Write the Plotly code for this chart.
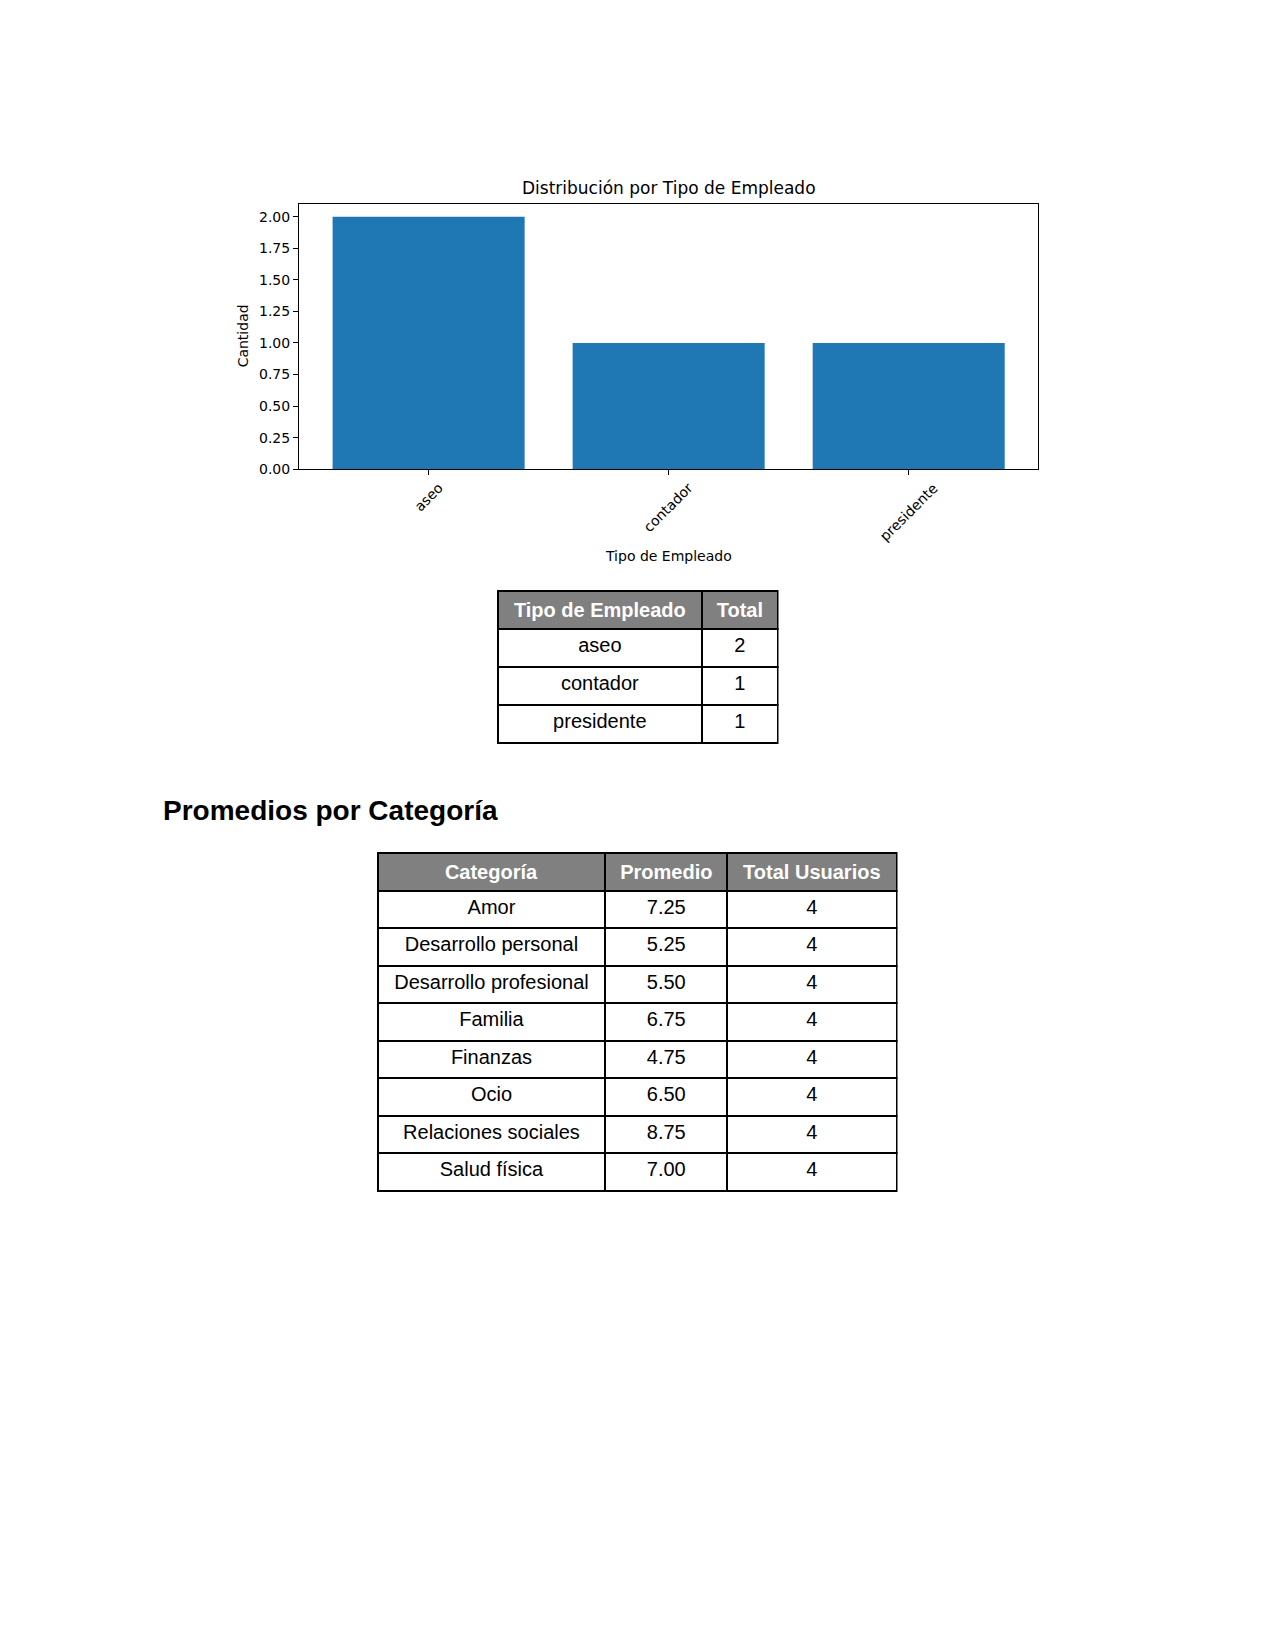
import plotly.graph_objects as go

# ---------------- data ----------------
tipos = ["aseo", "contador", "presidente"]
cantidades = [2, 1, 1]

categorias = ["Amor", "Desarrollo personal", "Desarrollo profesional", "Familia",
              "Finanzas", "Ocio", "Relaciones sociales", "Salud física"]
promedios = [7.25, 5.25, 5.50, 6.75, 4.75, 6.50, 8.75, 7.00]
total_usuarios = [4, 4, 4, 4, 4, 4, 4, 4]

y_ticks = [0, 0.25, 0.5, 0.75, 1.0, 1.25, 1.5, 1.75, 2.0]

W, H = 1275, 1650


def px(x):
    return x / W


def py(y):
    return 1 - y / H


DEJAVU = "DejaVu Sans"
ARIAL = "Liberation Sans, Arial"

fig = go.Figure()

fig.add_trace(go.Bar(
    x=tipos, y=cantidades,
    marker=dict(color="#1f77b4", line=dict(width=0)),
    showlegend=False,
    xaxis="x", yaxis="y",
))

# table 1
fig.add_trace(go.Table(
    domain=dict(x=[px(497.5), px(777.5)], y=[py(800), py(594)]),
    columnwidth=[204.8, 75.4],
    header=dict(
        values=["<b>Tipo de Empleado</b>", "<b>Total</b>"],
        fill_color="#808080",
        line=dict(color="black", width=2),
        font=dict(family=ARIAL, size=20, color="white"),
        align="center",
        height=38,
    ),
    cells=dict(
        values=[tipos, cantidades],
        fill_color="white",
        line=dict(color="black", width=2),
        font=dict(family=ARIAL, size=20, color="black"),
        align="center",
        height=38,
    ),
))

# table 2
fig.add_trace(go.Table(
    domain=dict(x=[px(377.5), px(896.7)], y=[py(1260), py(857)]),
    columnwidth=[228, 121.8, 169.4],
    header=dict(
        values=["<b>Categoría</b>", "<b>Promedio</b>", "<b>Total Usuarios</b>"],
        fill_color="#808080",
        line=dict(color="black", width=2),
        font=dict(family=ARIAL, size=20, color="white"),
        align="center",
        height=37.5,
    ),
    cells=dict(
        values=[categorias, [f"{v:.2f}" for v in promedios], total_usuarios],
        fill_color="white",
        line=dict(color="black", width=2),
        font=dict(family=ARIAL, size=20, color="black"),
        align="center",
        height=37.5,
    ),
))

annotations = []
# chart title
annotations.append(dict(
    text="Distribución por Tipo de Empleado", xref="paper", yref="paper",
    x=px((299 + 1038.3) / 2), y=py(188.5), xanchor="center", yanchor="middle",
    showarrow=False, font=dict(family=DEJAVU, size=17, color="black"),
))
# x axis title
annotations.append(dict(
    text="Tipo de Empleado", xref="paper", yref="paper",
    x=px((299 + 1038.3) / 2), y=py(559), xanchor="center", yanchor="middle",
    showarrow=False, font=dict(family=DEJAVU, size=14, color="black"),
))
# y axis title
annotations.append(dict(
    text="Cantidad", xref="paper", yref="paper", textangle=-90,
    x=px(243), y=py(338), xanchor="center", yanchor="middle",
    showarrow=False, font=dict(family=DEJAVU, size=14, color="black"),
))
# rotated category tick labels (centered under ticks, like matplotlib)
for t in tipos:
    annotations.append(dict(
        text=t, xref="x", yref="paper", x=t, y=py(479),
        xanchor="center", yanchor="top", textangle=-45,
        showarrow=False, font=dict(family=DEJAVU, size=14, color="black"),
    ))
# section heading
annotations.append(dict(
    text="<b>Promedios por Categoría</b>", xref="paper", yref="paper",
    x=px(161), y=py(814), xanchor="left", yanchor="middle",
    showarrow=False, font=dict(family="Liberation Sans, Arial", size=28, color="black"),
))

fig.update_layout(
    width=W, height=H,
    margin=dict(l=0, r=0, t=0, b=0),
    paper_bgcolor="white", plot_bgcolor="white",
    bargap=0.2,
    showlegend=False,
    xaxis=dict(
        domain=[px(299), px(1038.3)],
        anchor="y",
        type="category",
        range=[-0.54, 2.54],
        showline=True, linecolor="black", linewidth=1, mirror=True,
        ticks="outside", ticklen=5, tickwidth=1, tickcolor="black",
        showticklabels=False,
        showgrid=False, zeroline=False,
        fixedrange=True,
    ),
    yaxis=dict(
        domain=[py(471.5), py(205)],
        anchor="x",
        range=[0, 2.1],
        tickvals=y_ticks,
        tickformat=".2f",
        showline=True, linecolor="black", linewidth=1, mirror=True,
        ticks="outside", ticklen=5, tickwidth=1, tickcolor="black",
        tickfont=dict(family=DEJAVU, size=14, color="black"),
        showgrid=False, zeroline=False,
        fixedrange=True,
    ),
    annotations=annotations,
)

fig.write_html("out.html")
